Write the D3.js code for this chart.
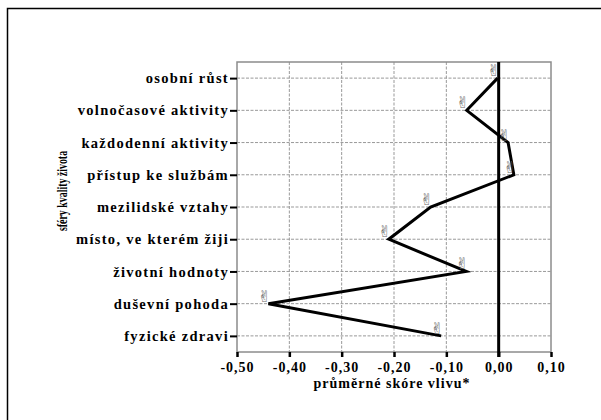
<!DOCTYPE html>
<html lang="cs">
<head>
<meta charset="UTF-8">
<script src="https://d3js.org/d3.v7.min.js"></script>
<style>
  body { margin: 0; background: #fff; }
  text { font-family: "Liberation Serif", "DejaVu Serif", serif; font-weight: bold; }
</style>
</head>
<body>
<div id="chart"></div>
<script>
  // data
  const categories = ["osobní růst", "volnočasové aktivity", "každodenní aktivity", "přístup ke službám",
    "mezilidské vztahy", "místo, ve kterém žiji", "životní hodnoty", "duševní pohoda", "fyzické zdravi"];
  const values = [-0.002, -0.061, 0.018, 0.029, -0.13, -0.21, -0.062, -0.44, -0.11];
  const xTicks = [-0.5, -0.4, -0.3, -0.2, -0.1, 0.0, 0.1];

  const W = 601, H = 420;
  const plot = { left: 237, right: 551, top: 62, bottom: 352 };

  const svg = d3.select("#chart").append("svg")
    .attr("width", W).attr("height", H);

  // outer frame
  svg.append("rect")
    .attr("x", 7.5).attr("y", 8.5)
    .attr("width", 700).attr("height", 500)
    .attr("fill", "none").attr("stroke", "#000").attr("stroke-width", 1.5);

  const x = d3.scaleLinear().domain([-0.5, 0.1]).range([plot.left, plot.right]);
  const y = d3.scalePoint().domain(categories).range([plot.top, plot.bottom]).padding(0.5);

  const fmt = d => d3.format(".2f")(d).replace(".", ",").replace("−", "-");

  // gridlines
  svg.append("g").selectAll("line")
    .data(categories).join("line")
    .attr("x1", plot.left).attr("x2", plot.right)
    .attr("y1", d => y(d)).attr("y2", d => y(d))
    .attr("stroke", "#999").attr("stroke-dasharray", "3,1.5").attr("stroke-width", 1);
  svg.append("g").selectAll("line")
    .data(xTicks.slice(1, -1)).join("line")
    .attr("x1", d => x(d)).attr("x2", d => x(d))
    .attr("y1", plot.top).attr("y2", plot.bottom)
    .attr("stroke", "#999").attr("stroke-dasharray", "3,1.5").attr("stroke-width", 1);

  // plot frame
  svg.append("rect")
    .attr("x", plot.left).attr("y", plot.top)
    .attr("width", plot.right - plot.left).attr("height", plot.bottom - plot.top)
    .attr("fill", "none").attr("stroke", "#8c8c8c").attr("stroke-width", 1.5);

  // axes
  const xAxis = svg.append("g")
    .attr("transform", `translate(0,${plot.bottom})`)
    .call(d3.axisBottom(x).tickValues(xTicks).tickFormat(fmt).tickSize(5).tickPadding(5));
  xAxis.select(".domain").remove();
  xAxis.selectAll(".tick line").attr("stroke", "#000").attr("stroke-width", 2.5);
  xAxis.selectAll(".tick text").attr("font-size", 14).attr("fill", "#000")
    .style("font-family", "'Liberation Serif', serif").style("font-weight", "bold")
    .style("letter-spacing", "1px");

  const yAxis = svg.append("g")
    .attr("transform", `translate(${plot.left},0)`)
    .call(d3.axisLeft(y).tickSize(7).tickPadding(1));
  yAxis.select(".domain").remove();
  yAxis.selectAll(".tick line").attr("stroke", "#000").attr("stroke-width", 2);
  yAxis.selectAll(".tick text").attr("font-size", 14.5).attr("fill", "#000")
    .style("font-family", "'Liberation Serif', serif").style("font-weight", "bold")
    .style("letter-spacing", "1.3px");

  // zero line
  svg.append("line")
    .attr("x1", x(0)).attr("x2", x(0))
    .attr("y1", plot.top).attr("y2", plot.bottom + 5)
    .attr("stroke", "#000").attr("stroke-width", 3);

  // data line
  const pts = categories.map((c, i) => [x(values[i]), y(c)]);
  svg.append("path")
    .attr("d", d3.line()(pts))
    .attr("fill", "none").attr("stroke", "#000").attr("stroke-width", 3)
    .attr("stroke-linejoin", "miter");

  // markers
  svg.append("g").selectAll("text")
    .data(pts).join("text")
    .attr("x", d => d[0] - 4).attr("y", d => d[1] - 2)
    .attr("text-anchor", "middle")
    .attr("font-size", 16)
    .attr("fill", "#6a6a6a")
    .style("font-family", "'DejaVu Sans', sans-serif").style("font-weight", "normal")
    .text("\u270C");

  // axis titles
  svg.append("text")
    .attr("x", 392).attr("y", 388)
    .attr("text-anchor", "middle").attr("font-size", 14)
    .style("letter-spacing", "1px")
    .text("průměrné skóre vlivu*");
  svg.append("text")
    .attr("transform", "translate(67,191) rotate(-90) scale(0.66,1)")
    .attr("text-anchor", "middle").attr("font-size", 15)
    .text("sféry kvality života");
</script>
</body>
</html>
